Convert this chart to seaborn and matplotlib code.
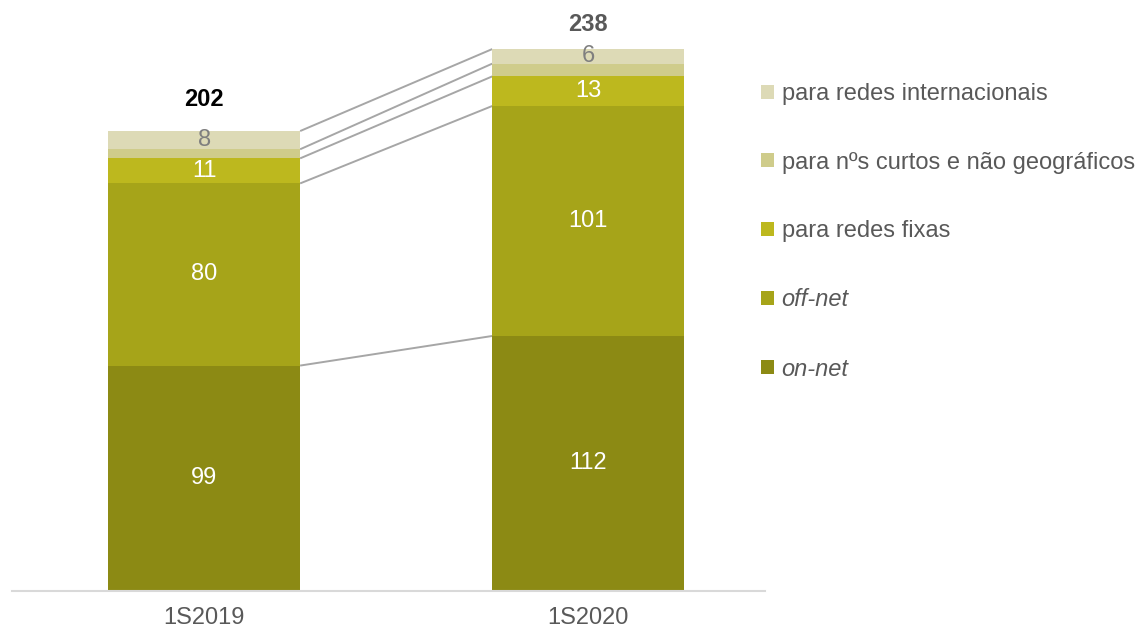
import matplotlib
matplotlib.use("Agg")
import matplotlib.pyplot as plt
import seaborn as sns
import numpy as np
import pandas as pd
from matplotlib.patches import Patch

categories = ["1S2019", "1S2020"]
series_names = ["on-net", "off-net", "para redes fixas",
                "para nºs curtos e não geográficos", "para redes internacionais"]
on_net = [99, 112]
off_net = [80, 101]
redes_fixas = [11, 13]
curtos = [4, 5.6]
internacionais = [8, 6.4]
totals = [202, 238]

colors = ["#8C8A14", "#A6A419", "#BDB81E", "#CFCC8B", "#DDDAB6"]
label_colors = ["white", "white", "white", None, "#7F7F7F"]
italic = [True, True, False, False, False]

sns.set_theme(style="white")
plt.rcParams["font.family"] = ["Liberation Sans", "DejaVu Sans"]

fig = plt.figure(figsize=(11.39, 6.29), dpi=100)
ax = fig.add_axes([12/1139, 38/629, (765-12)/1139, (591-20)/629])

series = [on_net, off_net, redes_fixas, curtos, internacionais]
cums = np.cumsum(np.array(series, dtype=float), axis=0)

# draw from the top cumulative down so lower layers overlay
for i in range(len(series) - 1, -1, -1):
    df = pd.DataFrame({"cat": categories, "val": cums[i]})
    sns.barplot(data=df, x="cat", y="val", color=colors[i], width=0.5,
                saturation=1, ax=ax, linewidth=0, zorder=2)

# connector lines
for i in range(len(series)):
    ax.plot([0.25, 0.75], [cums[i][0], cums[i][1]], color="#A6A6A6",
            lw=1.4, zorder=1, solid_capstyle="butt")

# segment labels
for i, s in enumerate(series):
    if label_colors[i] is None:
        continue
    for j in range(len(categories)):
        mid = cums[i][j] - s[j] / 2
        ax.text(j, mid, f"{s[j]:.0f}", ha="center", va="center",
                fontsize=17, color=label_colors[i], zorder=3)

total_colors = ["black", "#595959"]
total_offsets = [14, 11]
for j, t in enumerate(totals):
    ax.text(j, t + total_offsets[j], f"{t}", ha="center", va="center",
            fontsize=17, fontweight="bold", color=total_colors[j])

ax.set_xlim(-0.5, 1.46)
ax.set_ylim(0, (591 - 20) / 2.277)
ax.set_xlabel("")
ax.set_ylabel("")
ax.set_yticks([])
for sp in ["top", "right", "left"]:
    ax.spines[sp].set_visible(False)
ax.spines["bottom"].set_color("#D9D9D9")
ax.spines["bottom"].set_linewidth(1.5)
ax.tick_params(axis="x", length=0, pad=11.5, labelsize=17, labelcolor="#595959")

handles = [Patch(facecolor=colors[i], edgecolor="none") for i in range(len(series) - 1, -1, -1)]
labels = [series_names[i] for i in range(len(series) - 1, -1, -1)]
leg = fig.legend(handles, labels, loc="upper left", bbox_to_anchor=(752/1139, 1 - 74/629),
                 frameon=False, fontsize=17, labelspacing=1.96, handlelength=0.55,
                 handleheight=0.55, handletextpad=0.3, borderaxespad=0)
for txt, i in zip(leg.get_texts(), range(len(series) - 1, -1, -1)):
    txt.set_color("#595959")
    if italic[i]:
        txt.set_fontstyle("italic")

fig.savefig("out.png", dpi=100)
